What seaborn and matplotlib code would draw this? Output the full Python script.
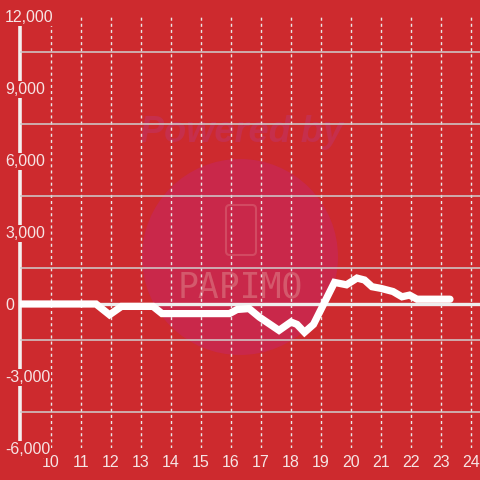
import matplotlib
matplotlib.use("Agg")
import matplotlib.pyplot as plt
import numpy as np
import pandas as pd
import seaborn as sns
from matplotlib.patches import Circle, FancyBboxPatch

# data
hours = [9.0, 11.5, 11.95, 12.35, 13.4, 13.7, 15.95, 16.2, 16.6, 16.95,
         17.6, 18.0, 18.2, 18.45, 18.75, 19.45, 19.85, 20.2, 20.45, 20.7,
         21.0, 21.4, 21.7, 21.95, 22.2, 23.3]
values = [0, 0, -450, -100, -100, -400, -400, -230, -190, -550,
          -1100, -750, -850, -1180, -850, 900, 800, 1080, 1000, 720,
          650, 520, 300, 370, 200, 200]
x_ticks = list(range(10, 25))
y_ticks = [-6000, -3000, 0, 3000, 6000, 9000, 12000]
y_tick_labels = ["-6,000", "-3,000", "0", "3,000", "6,000", "9,000", "12,000"]

bg = "#cd2a2e"
grid_col = "#cfcfcf"
txt_col = "#f6e4e4"

sns.set_theme(style="white", rc={"axes.facecolor": bg, "figure.facecolor": bg})
plt.rcParams["font.family"] = ["Liberation Sans", "DejaVu Sans"]

fig = plt.figure(figsize=(4.8, 4.8), dpi=100)
ax = fig.add_axes([20 / 480, 1 - 448 / 480, 460 / 480, 432 / 480])
ax.patch.set_alpha(0)

# watermark, under the grid
tf = fig.transFigure
ax.add_patch(Circle((240 / 480, 1 - 257 / 480), 98 / 480, transform=tf,
                    facecolor="#c9284a", edgecolor="none", zorder=0.2, clip_on=False))
ax.add_patch(FancyBboxPatch((226 / 480, 1 - 255 / 480), 30 / 480, 50 / 480,
                            boxstyle="round,pad=0,rounding_size=0.008", transform=tf,
                            facecolor="none", edgecolor="#d24a62", lw=1.5,
                            zorder=0.3, clip_on=False))
ax.text(242 / 480, 1 - 132 / 480, "Powered by", transform=tf, color="#c62f4c",
        fontsize=26, fontweight="bold", fontstyle="italic", ha="center",
        va="center", zorder=0.3)
ax.text(240 / 480, 1 - 288 / 480, "PAPIMO", transform=tf, color="#d4596c",
        fontsize=25, ha="center", va="center", zorder=0.3,
        family=["DejaVu Sans Mono", "DejaVu Sans"])

df = pd.DataFrame({"hour": hours, "value": values})

# grid
ax.set_yticks(y_ticks)
ax.set_yticklabels(y_tick_labels)
ax.set_yticks(np.arange(-6000, 12001, 1500), minor=True)
ax.set_xticks(x_ticks)
ax.set_axisbelow(False)
ax.grid(True, axis="y", which="minor", color=grid_col, lw=1.1, zorder=1)
ax.grid(True, axis="x", which="major", color="#e8e8e8", lw=1.0, ls=(0, (2.2, 2.2)), zorder=1)
ax.axhline(0, color="#eeeeee", lw=2.4, zorder=2)

sns.lineplot(data=df, x="hour", y="value", ax=ax, color="white", lw=5.2,
             zorder=3, solid_joinstyle="miter")

ax.set_xlim(10 - 31 / 30, 24 + 9 / 30)
ax.set_ylim(-6000, 12000)
ax.set_xlabel("")
ax.set_ylabel("")

for side in ["top", "right", "bottom"]:
    ax.spines[side].set_visible(False)
ax.spines["left"].set_color("#f4f0f0")
ax.spines["left"].set_linewidth(2.6)
ax.spines["left"].set_bounds(-6000, 11650)

ax.tick_params(axis="y", which="both", length=0, pad=10.8, labelsize=11.5, labelcolor=txt_col)
ax.tick_params(axis="x", which="both", length=0, pad=5, labelsize=11.5, labelcolor=txt_col)
for lab in ax.get_yticklabels():
    lab.set_ha("left")
    lab.set_bbox(dict(facecolor=bg, edgecolor="none", pad=0.6))

fig.savefig("out.png", dpi=100, facecolor=bg)
